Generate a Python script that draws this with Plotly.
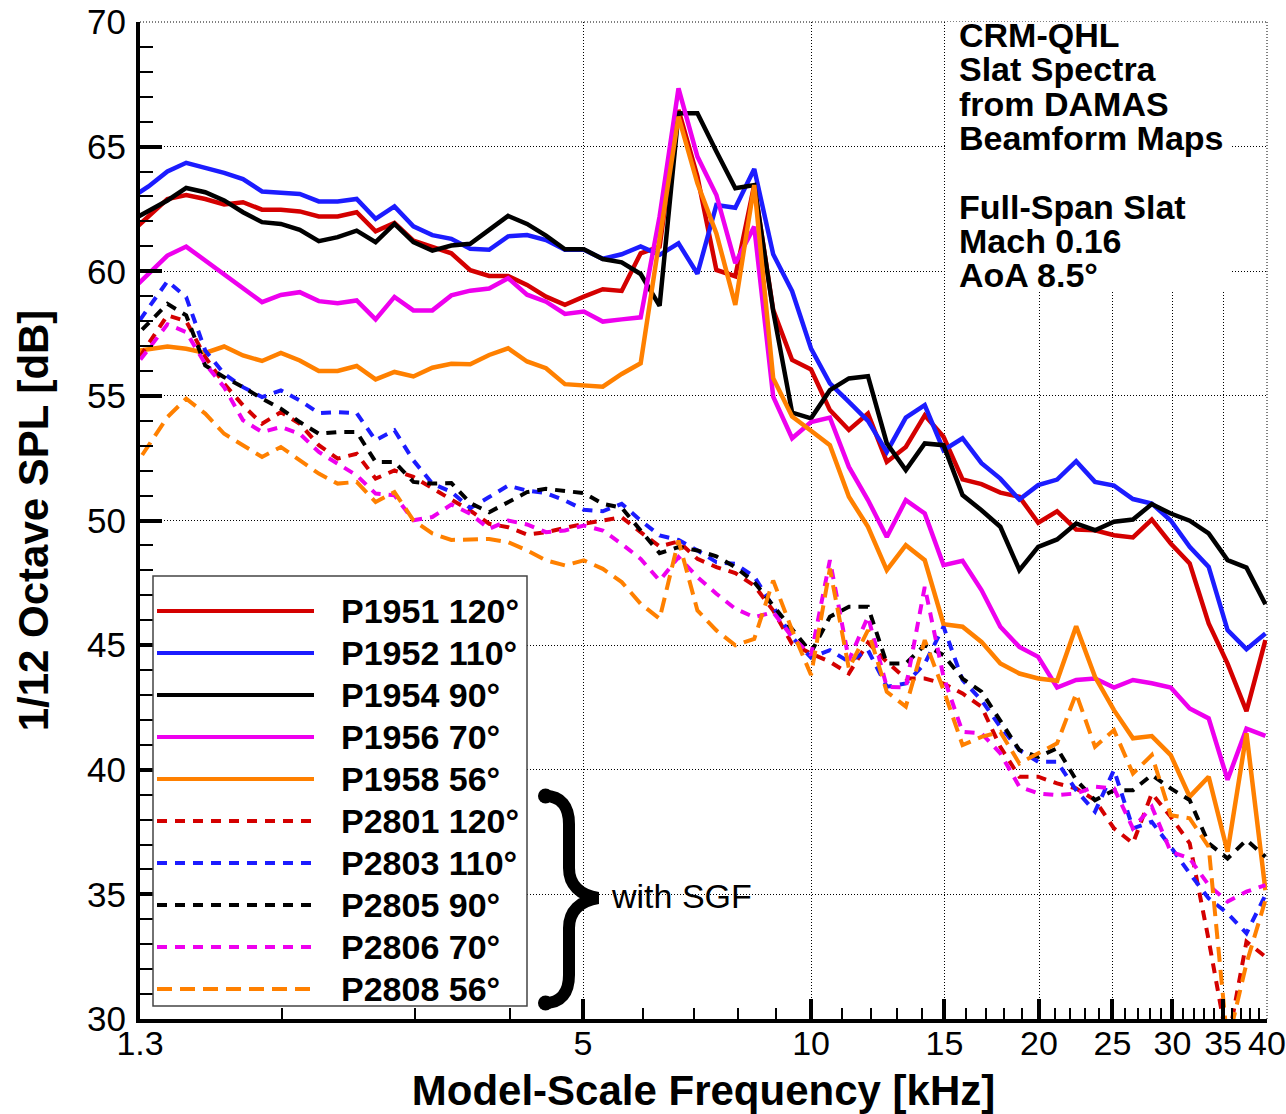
import math
import plotly.graph_objects as go

# ---------------- data ----------------
# 1/12-octave band centre frequencies [kHz]
freq_khz = [1.259, 1.334, 1.413, 1.496, 1.585, 1.679, 1.778, 1.884, 1.995, 2.113,
            2.239, 2.371, 2.512, 2.661, 2.818, 2.985, 3.162, 3.350, 3.548, 3.758,
            3.981, 4.217, 4.467, 4.732, 5.012, 5.309, 5.623, 5.957, 6.310, 6.683,
            7.079, 7.499, 7.943, 8.414, 8.913, 9.441, 10.00, 10.59, 11.22, 11.89,
            12.59, 13.34, 14.13, 14.96, 15.85, 16.79, 17.78, 18.84, 19.95, 21.13,
            22.39, 23.71, 25.12, 26.61, 28.18, 29.85, 31.62, 33.50, 35.48, 37.58,
            39.81]

spl_P1951 = [61.5, 62.2, 62.9, 63.06, 62.9, 62.68, 62.77, 62.47, 62.47, 62.4,
             62.2, 62.2, 62.37, 61.6, 61.94, 61.23, 60.97, 60.72, 60.04, 59.81,
             59.81, 59.45, 58.98, 58.65, 58.98, 59.28, 59.21, 60.72, 60.99, 66.47,
             63.8, 60.05, 59.8, 63.46, 58.45, 56.44, 56.06, 54.43, 53.63, 54.29,
             52.35, 52.95, 54.22, 53.36, 51.65, 51.46, 51.12, 50.95, 49.91, 50.37,
             49.64, 49.61, 49.41, 49.32, 50.04, 49.08, 48.28, 45.87, 44.26, 42.35,
             45.2]
spl_P1952 = [62.9, 63.4, 64.0, 64.35, 64.15, 63.95, 63.7, 63.2, 63.15, 63.1,
             62.8, 62.8, 62.9, 62.1, 62.6, 61.8, 61.45, 61.3, 60.9, 60.86,
             61.4, 61.45, 61.25, 60.86, 60.86, 60.5, 60.68, 61.0, 60.66, 61.12,
             59.9, 62.66, 62.55, 64.1, 60.68, 59.2, 56.9, 55.5, 54.76, 54.0,
             52.75, 54.13, 54.63, 52.82, 53.3, 52.3, 51.68, 50.84, 51.42, 51.64,
             52.38, 51.55, 51.4, 50.86, 50.68, 50.0, 48.94, 48.14, 45.6, 44.84,
             45.47]
spl_P1954 = [62.0, 62.4, 62.84, 63.34, 63.17, 62.84, 62.37, 61.97, 61.9, 61.66,
             61.21, 61.37, 61.63, 61.17, 61.9, 61.17, 60.83, 61.03, 61.1, 61.66,
             62.22, 61.9, 61.43, 60.88, 60.88, 60.49, 60.36, 59.89, 58.61, 66.34,
             66.34, 64.8, 63.33, 63.46, 58.4, 54.33, 54.1, 55.23, 55.7, 55.79,
             53.1, 52.02, 53.09, 53.02, 51.02, 50.41, 49.75, 48.01, 48.94, 49.24,
             49.88, 49.61, 49.95, 50.04, 50.66, 50.28, 49.99, 49.48, 48.41, 48.11,
             46.64]
spl_P1956 = [59.16, 59.92, 60.63, 60.99, 60.43, 59.87, 59.3, 58.76, 59.05, 59.16,
             58.8, 58.72, 58.83, 58.07, 58.97, 58.43, 58.43, 59.03, 59.22, 59.31,
             59.72, 59.06, 58.78, 58.29, 58.38, 57.98, 58.07, 58.15, 62.2, 67.34,
             64.6, 63.06, 60.32, 61.79, 54.97, 53.3, 53.95, 54.13, 52.15, 50.82,
             49.34, 50.82, 50.28, 48.21, 48.38, 47.21, 45.74, 44.93, 44.53, 43.3,
             43.6, 43.66, 43.3, 43.6, 43.47, 43.3, 42.46, 42.06, 39.6, 41.65,
             41.36]
spl_P1958 = [56.76, 56.87, 56.98, 56.89, 56.72, 56.98, 56.62, 56.4, 56.72, 56.42,
             56.0, 56.0, 56.2, 55.66, 55.96, 55.78, 56.13, 56.29, 56.27, 56.64,
             56.91, 56.38, 56.11, 55.47, 55.43, 55.37, 55.88, 56.31, 61.3, 66.2,
             63.53, 61.52, 58.65, 63.46, 55.71, 54.17, 53.6, 53.02, 50.95, 49.75,
             48.01, 49.01, 48.41, 45.84, 45.74, 45.13, 44.26, 43.86, 43.66, 43.57,
             45.76, 43.73, 42.39, 41.26, 41.35, 40.59, 38.92, 39.72, 36.71, 41.46,
             35.17]
spl_P2801 = [55.94, 57.12, 58.23, 58.0, 56.56, 55.49, 54.62, 53.88, 54.35, 53.88,
             53.02, 52.48, 52.68, 51.68, 52.01, 51.75, 51.28, 50.84, 50.4, 49.87,
             49.73, 49.44, 49.53, 49.71, 49.87, 50.0, 50.13, 49.53, 48.96, 49.16,
             48.46, 48.13, 47.89, 47.39, 46.39, 45.05, 44.66, 44.33, 43.86, 45.1,
             44.33, 43.66, 43.66, 43.46, 43.06, 42.53, 40.92, 39.72, 39.72, 39.45,
             39.25, 38.78, 37.65, 37.05, 39.05, 38.11, 37.05, 33.17, 29.0, 33.1,
             32.5]
spl_P2803 = [57.45, 58.55, 59.6, 58.96, 56.82, 55.89, 55.35, 54.95, 55.22, 54.82,
             54.31, 54.35, 54.31, 53.22, 53.62, 52.41, 51.48, 51.15, 50.5, 50.94,
             51.4, 51.2, 51.1, 50.8, 50.43, 50.37, 50.67, 50.0, 49.4, 49.22,
             48.8, 48.33, 48.26, 47.75, 46.52, 45.32, 44.5, 44.8, 44.33, 44.8,
             43.33, 43.46, 44.26, 45.74, 43.6, 42.79, 41.72, 40.79, 40.32, 40.32,
             39.18, 38.32, 39.99, 37.65, 37.91, 36.91, 35.84, 34.84, 34.24, 33.44,
             34.97]
spl_P2805 = [57.14, 57.94, 58.69, 58.23, 56.22, 55.75, 55.35, 54.89, 54.49, 53.95,
             53.48, 53.55, 53.55, 52.35, 52.35, 51.55, 51.48, 51.5, 50.7, 50.33,
             50.74, 51.14, 51.27, 51.2, 51.1, 50.67, 50.51, 49.6, 48.69, 48.93,
             48.8, 48.56, 48.13, 47.53, 46.59, 45.59, 44.7, 46.14, 46.54, 46.54,
             44.26, 44.26, 45.0, 44.6, 43.66, 43.13, 42.0, 40.79, 40.52, 40.86,
             39.59, 38.78, 39.18, 39.18, 39.79, 39.25, 38.78, 37.05, 36.44, 37.18,
             36.51]
spl_P2806 = [55.88, 56.9, 57.87, 57.56, 56.29, 55.35, 54.02, 53.55, 53.75, 53.48,
             52.75, 52.28, 51.81, 51.08, 51.01, 50.01, 50.14, 50.64, 50.27, 49.67,
             50.0, 49.84, 49.53, 49.6, 49.8, 49.6, 49.06, 48.46, 47.59, 48.53,
             47.73, 47.06, 46.46, 46.12, 46.32, 45.32, 44.6, 48.41, 44.4, 46.14,
             43.33, 43.3, 47.34, 43.73, 41.52, 41.46, 40.66, 39.32, 39.05, 38.98,
             39.05, 39.32, 39.25, 37.65, 38.52, 36.71, 36.44, 35.37, 34.71, 35.11,
             35.37]
spl_P2808 = [51.86, 53.04, 54.15, 54.89, 54.29, 53.48, 53.02, 52.55, 52.95, 52.41,
             51.88, 51.48, 51.55, 50.74, 51.14, 50.01, 49.48, 49.22, 49.24, 49.26,
             49.13, 48.8, 48.4, 48.2, 48.4, 48.06, 47.53, 46.66, 46.06, 49.2,
             46.39, 45.59, 44.99, 45.25, 47.59, 45.6, 43.8, 48.07, 44.06, 45.6,
             43.13, 42.53, 45.2, 43.2, 40.99, 41.32, 41.52, 40.25, 40.66, 41.06,
             43.06, 40.92, 41.59, 39.85, 40.59, 38.18, 38.05, 36.91, 29.0, 32.23,
             34.77]

series_names = ["P1951 120°", "P1952 110°", "P1954 90°", "P1956 70°", "P1958 56°",
                "P2801 120°", "P2803 110°", "P2805 90°", "P2806 70°", "P2808 56°"]
series_values = [spl_P1951, spl_P1952, spl_P1954, spl_P1956, spl_P1958,
                 spl_P2801, spl_P2803, spl_P2805, spl_P2806, spl_P2808]

x_tick_vals = [1.3, 5, 10, 15, 20, 25, 30, 35, 40]
x_tick_text = ["1.3", "5", "10", "15", "20", "25", "30", "35", "40"]
x_minor_vals = [2, 3, 4, 6, 7, 8, 9, 11, 12, 13, 14, 16, 17, 18, 19,
                21, 22, 23, 24, 26, 27, 28, 29, 31, 32, 33, 34, 36, 37, 38, 39]
y_tick_vals = [30, 35, 40, 45, 50, 55, 60, 65, 70]

info_lines = ["CRM-QHL", "Slat Spectra", "from DAMAS", "Beamform Maps", "",
              "Full-Span Slat", "Mach 0.16", "AoA 8.5°"]

# ---------------- styles ----------------
FONT = "Liberation Sans, Arial, Helvetica, sans-serif"
colors = ["#d40000", "#1c1cff", "#000000", "#ee00ee", "#ff8000",
          "#d40000", "#1c1cff", "#000000", "#ee00ee", "#ff8000"]
dashes = ["solid"] * 5 + ["10px,8px"] * 4 + ["15px,8px"]

W, H = 1286, 1114
L, R, T, B = 140, 19, 22, 95
PW, PH = W - L - R, H - T - B


def px(x):
    return (x - L) / PW


def py(y):
    return (H - B - y) / PH


fig = go.Figure()
for name, vals, col, dash in zip(series_names, series_values, colors, dashes):
    fig.add_trace(go.Scatter(x=freq_khz, y=vals, mode="lines", name=name,
                             line=dict(color=col, width=4.5 if dash == "solid" else 4,
                                       dash=dash),
                             showlegend=False, hoverinfo="skip"))

shapes = []
annotations = []

# dotted frame lines at top (70 dB) and right (40 kHz)
shapes.append(dict(type="line", xref="paper", yref="paper", x0=0, x1=1, y0=1, y1=1,
                   line=dict(color="black", width=1, dash="1px,2px"), layer="below"))
shapes.append(dict(type="line", xref="paper", yref="paper", x0=1, x1=1, y0=0, y1=1,
                   line=dict(color="black", width=1, dash="1px,2px"), layer="below"))

# white box behind the info text
shapes.append(dict(type="rect", xref="paper", yref="paper",
                   x0=px(946), x1=px(1232), y0=py(290), y1=py(22),
                   fillcolor="white", line=dict(width=0), layer="above"))
for i, txt in enumerate(info_lines):
    if not txt:
        continue
    annotations.append(dict(text=txt, xref="paper", yref="paper",
                            x=px(957), y=py(35 + 34.3 * i),
                            xanchor="left", yanchor="middle", showarrow=False,
                            font=dict(family=FONT, size=34, color="black", weight="bold")))

# legend box
shapes.append(dict(type="rect", xref="paper", yref="paper",
                   x0=px(153), x1=px(527), y0=py(1006), y1=py(576),
                   fillcolor="white", line=dict(color="#444444", width=1.5), layer="above"))
for i, (name, col, dash) in enumerate(zip(series_names, colors, dashes)):
    yc = 611 + 42 * i
    shapes.append(dict(type="line", xref="paper", yref="paper",
                       x0=px(157), x1=px(314), y0=py(yc), y1=py(yc),
                       line=dict(color=col, width=4, dash=dash), layer="above"))
    annotations.append(dict(text=name, xref="paper", yref="paper",
                            x=px(339), y=py(yc), xanchor="left", yanchor="middle",
                            showarrow=False,
                            font=dict(family=FONT, size=34, color="black", weight="bold")))

# curly brace grouping the SGF entries
brace_pts = ("M {a},{b} C {c},{b} {d},{e} {d},{f} L {d},{g} "
             "C {d},{h} {i},{j} {k},{j2} C {i},{j3} {d},{l} {d},{m} "
             "L {d},{n} C {d},{o} {c},{p} {a},{p}")
brace_path = brace_pts.format(
    a=px(545), b=py(796), c=px(561), d=px(569), e=py(806), f=py(824), g=py(868),
    h=py(885), i=px(580), j=py(895), k=px(598), j2=py(898), j3=py(901),
    l=py(911), m=py(928), n=py(975), o=py(993), p=py(1003))
shapes.append(dict(type="path", xref="paper", yref="paper", path=brace_path,
                   line=dict(color="black", width=12), fillcolor="rgba(0,0,0,0)",
                   layer="above"))
for yb in (796, 1003):
    shapes.append(dict(type="circle", xref="paper", yref="paper",
                       x0=px(538), x1=px(553), y0=py(yb + 7.5), y1=py(yb - 7.5),
                       fillcolor="black", line=dict(width=0), layer="above"))
annotations.append(dict(text="with SGF", xref="paper", yref="paper",
                        x=px(609), y=py(896), xanchor="left", yanchor="middle",
                        showarrow=False, font=dict(family=FONT, size=34, color="black")))

fig.update_layout(
    width=W, height=H,
    margin=dict(l=L, r=R, t=T, b=B, pad=0),
    paper_bgcolor="white", plot_bgcolor="white",
    font=dict(family=FONT, color="black"),
    showlegend=False,
    shapes=shapes, annotations=annotations,
)

fig.update_xaxes(
    type="log", range=[math.log10(1.3), math.log10(40)],
    tickmode="array", tickvals=x_tick_vals, ticktext=x_tick_text,
    ticks="inside", ticklen=20, tickwidth=4, tickcolor="black",
    showline=True, linewidth=4, linecolor="black", zeroline=False,
    showgrid=True, gridcolor="black", gridwidth=1, griddash="1px,2px",
    tickfont=dict(family=FONT, size=34, color="black"),
    ticklabelstandoff=-9,
    minor=dict(tickmode="array", tickvals=x_minor_vals, ticks="inside",
               ticklen=11, tickwidth=1.5, tickcolor="black", showgrid=False),
    title=dict(text="Model-Scale Frequency [kHz]", standoff=20,
               font=dict(family=FONT, size=42, color="black", weight="bold")),
    automargin=False,
)
fig.update_yaxes(
    range=[30, 70], tickmode="array", tickvals=y_tick_vals,
    ticks="inside", ticklen=22, tickwidth=4, tickcolor="black",
    showline=True, linewidth=4, linecolor="black", zeroline=False,
    showgrid=True, gridcolor="black", gridwidth=1, griddash="1px,2px",
    tickfont=dict(family=FONT, size=35, color="black"),
    ticklabelstandoff=3,
    minor=dict(dtick=1, ticks="inside", ticklen=13, tickwidth=1.5,
               tickcolor="black", showgrid=False),
    title=dict(text="1/12 Octave SPL [dB]", standoff=26,
               font=dict(family=FONT, size=42, color="black", weight="bold")),
    automargin=False,
)

fig.write_html("out.html")
